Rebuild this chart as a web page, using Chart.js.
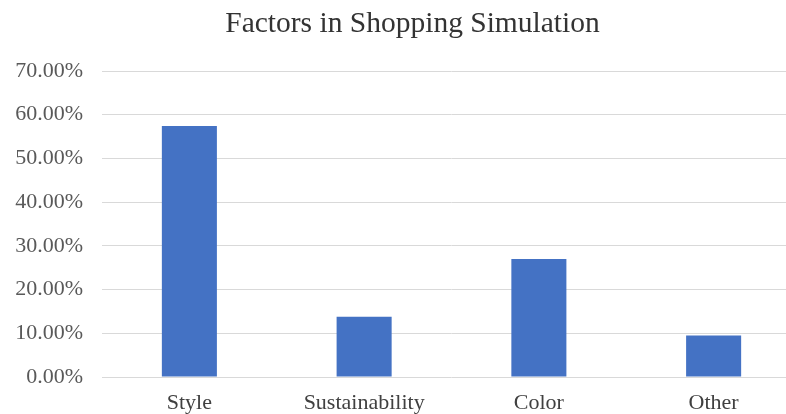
<!DOCTYPE html>
<html>
<head>
<meta charset="utf-8">
<script src="https://cdn.jsdelivr.net/npm/chart.js@4"></script>
<style>
  html, body { margin: 0; padding: 0; background: #fff; overflow: hidden; }
  #wrap { width: 825px; height: 414px; }
</style>
</head>
<body>
<div id="wrap"><canvas id="factorsChart"></canvas></div>
<script>
// Data
const categories = ['Style', 'Sustainability', 'Color', 'Other'];
const shares = [57.4, 13.8, 27.0, 9.5]; // percent
const yMax = 70;
const yStep = 10;

const serif = 'Liberation Serif';

function initChart() {
  const ctx = document.getElementById('factorsChart');
  new Chart(ctx, {
    type: 'bar',
    data: {
      labels: categories,
      datasets: [{
        label: 'Share',
        data: shares,
        backgroundColor: '#4472C4',
        borderWidth: 0,
        barPercentage: 1,
        categoryPercentage: 0.315
      }]
    },
    options: {
      responsive: true,
      maintainAspectRatio: false,
      animation: false,
      layout: { padding: 0 },
      plugins: {
        legend: { display: false },
        tooltip: { enabled: false },
        title: {
          display: true,
          text: 'Factors in Shopping Simulation',
          color: '#333333',
          font: { family: serif, size: 29.5, weight: 'normal' },
          padding: { top: 7, bottom: 28.6 }
        }
      },
      scales: {
        x: {
          grid: { display: false, drawTicks: false },
          border: { display: false },
          ticks: {
            color: '#404040',
            font: { family: serif, size: 22 },
            padding: 13,
            maxRotation: 0
          },
          afterFit: (scale) => { scale.height = 37; }
        },
        y: {
          min: 0,
          max: yMax,
          grid: { color: '#d9d9d9', lineWidth: 1, drawTicks: false },
          border: { display: false },
          ticks: {
            stepSize: yStep,
            color: '#595959',
            font: { family: serif, size: 22 },
            padding: 19,
            callback: (v) => v.toFixed(2) + '%'
          },
          afterFit: (scale) => { scale.width = 102; }
        },
        // empty right-hand strip, keeps the plot area where the original had it
        yRight: {
          position: 'right',
          min: 0,
          max: yMax,
          grid: { display: false, drawTicks: false },
          border: { display: false },
          ticks: { display: false },
          afterFit: (scale) => { scale.width = 24; }
        }
      }
    }
  });
}

document.addEventListener('DOMContentLoaded', initChart);
</script>
</body>
</html>
